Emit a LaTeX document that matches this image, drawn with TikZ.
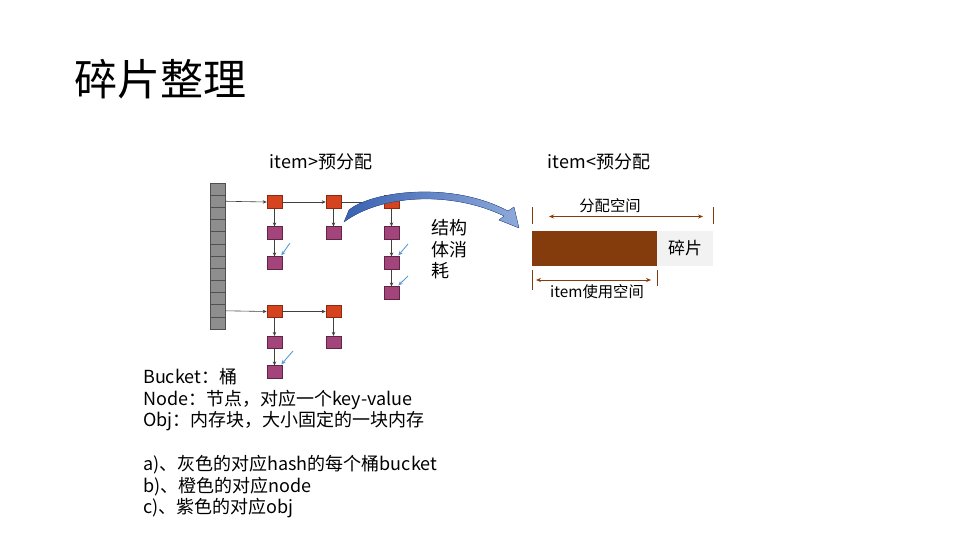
\documentclass[tikz,border=0pt]{standalone}
\usepackage{fontspec}
\setmainfont{Noto Sans CJK SC}
\usetikzlibrary{arrows.meta}
\definecolor{bucketfill}{HTML}{8E8E8E}
\definecolor{bucketline}{HTML}{505050}
\definecolor{nodefill}{HTML}{D5441F}
\definecolor{nodeline}{HTML}{8A2A10}
\definecolor{objfill}{HTML}{A3457A}
\definecolor{objline}{HTML}{5E2545}
\definecolor{linkc}{HTML}{404040}
\definecolor{hintblue}{HTML}{5B9BD5}
\definecolor{brownbar}{HTML}{843C0C}
\definecolor{fraggray}{HTML}{F2F2F2}
\definecolor{curveA}{HTML}{3A62B2}
\definecolor{curveB}{HTML}{8EA9DB}
\begin{document}
\begin{tikzpicture}[x=1pt,y=-1pt,
  bucket/.style={draw=bucketline,fill=bucketfill,line width=0.6pt,minimum width=15pt,minimum height=12.17pt,inner sep=0pt},
  hnode/.style={draw=nodeline,fill=nodefill,line width=0.6pt,minimum width=15pt,minimum height=12.5pt,inner sep=0pt},
  obj/.style={draw=objline,fill=objfill,line width=0.6pt,minimum width=15pt,minimum height=12.5pt,inner sep=0pt},
  link/.style={draw=linkc,line width=0.6pt,-{Stealth[length=4pt,width=3.5pt]}},
  hint/.style={draw=hintblue,line width=0.9pt,-{Stealth[length=4.5pt,width=4pt]}},
  dim/.style={draw=brownbar,line width=0.8pt},
  dimarr/.style={draw=brownbar,line width=0.8pt,{Stealth[length=5pt,width=4pt]}-{Stealth[length=5pt,width=4pt]}},
  txt/.style={inner sep=0pt,font=\fontsize{18}{21.7}\selectfont},
  small/.style={inner sep=0pt,font=\fontsize{15.3}{18}\selectfont}
]
\useasboundingbox (0,0) rectangle (960,540);

% title
\node[anchor=west,inner sep=0pt,font=\fontsize{43}{50}\selectfont] (title) at (74,79) {碎片整理};

% headers
\node[txt] (h1) at (321,162) {item>预分配};
\node[txt] (h2) at (599,162) {item<预分配};

% bucket column
\foreach \i in {1,...,12} {
  \node[bucket] (b\i) at (217.5,{183+12.17*(\i-0.5)}) {};
}

% hash nodes
\node[hnode] (o11) at (274.5,202) {};
\node[hnode] (o12) at (333.5,202) {};
\node[hnode] (o13) at (391.5,202) {};
\node[hnode] (o21) at (274.5,311.5) {};
\node[hnode] (o22) at (333.5,311.5) {};

% objs
\node[obj] (p11) at (274.5,233) {};
\node[obj] (p12) at (274.5,263) {};
\node[obj] (p21) at (333.5,233) {};
\node[obj] (p31) at (391.5,233) {};
\node[obj] (p32) at (391.5,263) {};
\node[obj] (p33) at (391.5,293) {};
\node[obj] (p41) at (274.5,342.5) {};
\node[obj] (p42) at (274.5,372) {};
\node[obj] (p51) at (333.5,342.5) {};

% links
\draw[link] (b2.east) -- (o11.west);
\draw[link] (o11) -- (o12);
\draw[link] (o12) -- (o13);
\draw[link] (b11.east) -- (o21.west);
\draw[link] (o21) -- (o22);
\draw[link] (o11) -- (p11);
\draw[link] (p11) -- (p12);
\draw[link] (o12) -- (p21);
\draw[link] (o13) -- (p31);
\draw[link] (p31) -- (p32);
\draw[link] (p32) -- (p33);
\draw[link] (o21) -- (p41);
\draw[link] (p41) -- (p42);
\draw[link] (o22) -- (p51);

% blue hints
\coordinate (c1) at (290,243);
\coordinate (c2) at (408,244);
\coordinate (c3) at (408,276);
\coordinate (c4) at (293,351);
\draw[hint] (c1) -- ([xshift=-1pt,yshift=1pt]p12.north east);
\draw[hint] (c2) -- ([xshift=-1pt,yshift=1pt]p32.north east);
\draw[hint] (c3) -- ([xshift=-1pt,yshift=1pt]p33.north east);
\draw[hint] (c4) -- ([xshift=-1pt,yshift=1pt]p42.north east);

% curved arrow
\fill[left color=curveA,right color=curveB,draw=curveA!85!black,line width=0.3pt]
  (349,210) .. controls (370,192) and (450,180) .. (508,211)
  -- (514,207) -- (519,228) -- (499,220) -- (504,216)
  .. controls (450,190) and (380,195) .. (344,222) -- cycle;

% label
\node[txt,anchor=north west,align=left] (lab) at (431,219) {结构\\体消\\耗};

% right side
\node[fill=brownbar,minimum width=125pt,minimum height=35pt,inner sep=0pt] (bar) at (594.5,248.5) {};
\node[fill=fraggray,minimum width=56pt,minimum height=35pt,inner sep=0pt,font=\fontsize{17}{20}\selectfont] (frag) at (685,248.5) {碎片};

\coordinate (t1a) at (532.5,207); \coordinate (t1b) at (532.5,224);
\coordinate (t2a) at (713,207); \coordinate (t2b) at (713,224);
\draw[dim] (t1a) -- (t1b);
\draw[dim] (t2a) -- (t2b);
\coordinate (d1) at (549,216.5); \coordinate (d2) at (703,216.5);
\draw[dimarr] (d1) -- (d2);
\node[small] (alloc) at (610,206) {分配空间};

\coordinate (t3a) at (532.5,270); \coordinate (t3b) at (532.5,290);
\coordinate (t4a) at (657,270); \coordinate (t4b) at (657,286);
\draw[dim] (t3a) -- (t3b);
\draw[dim] (t4a) -- (t4b);
\coordinate (d3) at (536,280); \coordinate (d4) at (651,280);
\draw[dimarr] (d3) -- (d4);
\node[small,fill=white,inner sep=1pt] (used) at (597,292) {item使用空间};

% legend text
\node[txt,anchor=north west,align=left] (legend1) at (143,368) {Bucket：桶\\Node：节点，对应一个key-value\\Obj：内存块，大小固定的一块内存};
\node[txt,anchor=north west,align=left] (legend2) at (143,455) {a)、灰色的对应hash的每个桶bucket\\b)、橙色的对应node\\c)、紫色的对应obj};
\end{tikzpicture}
\end{document}
